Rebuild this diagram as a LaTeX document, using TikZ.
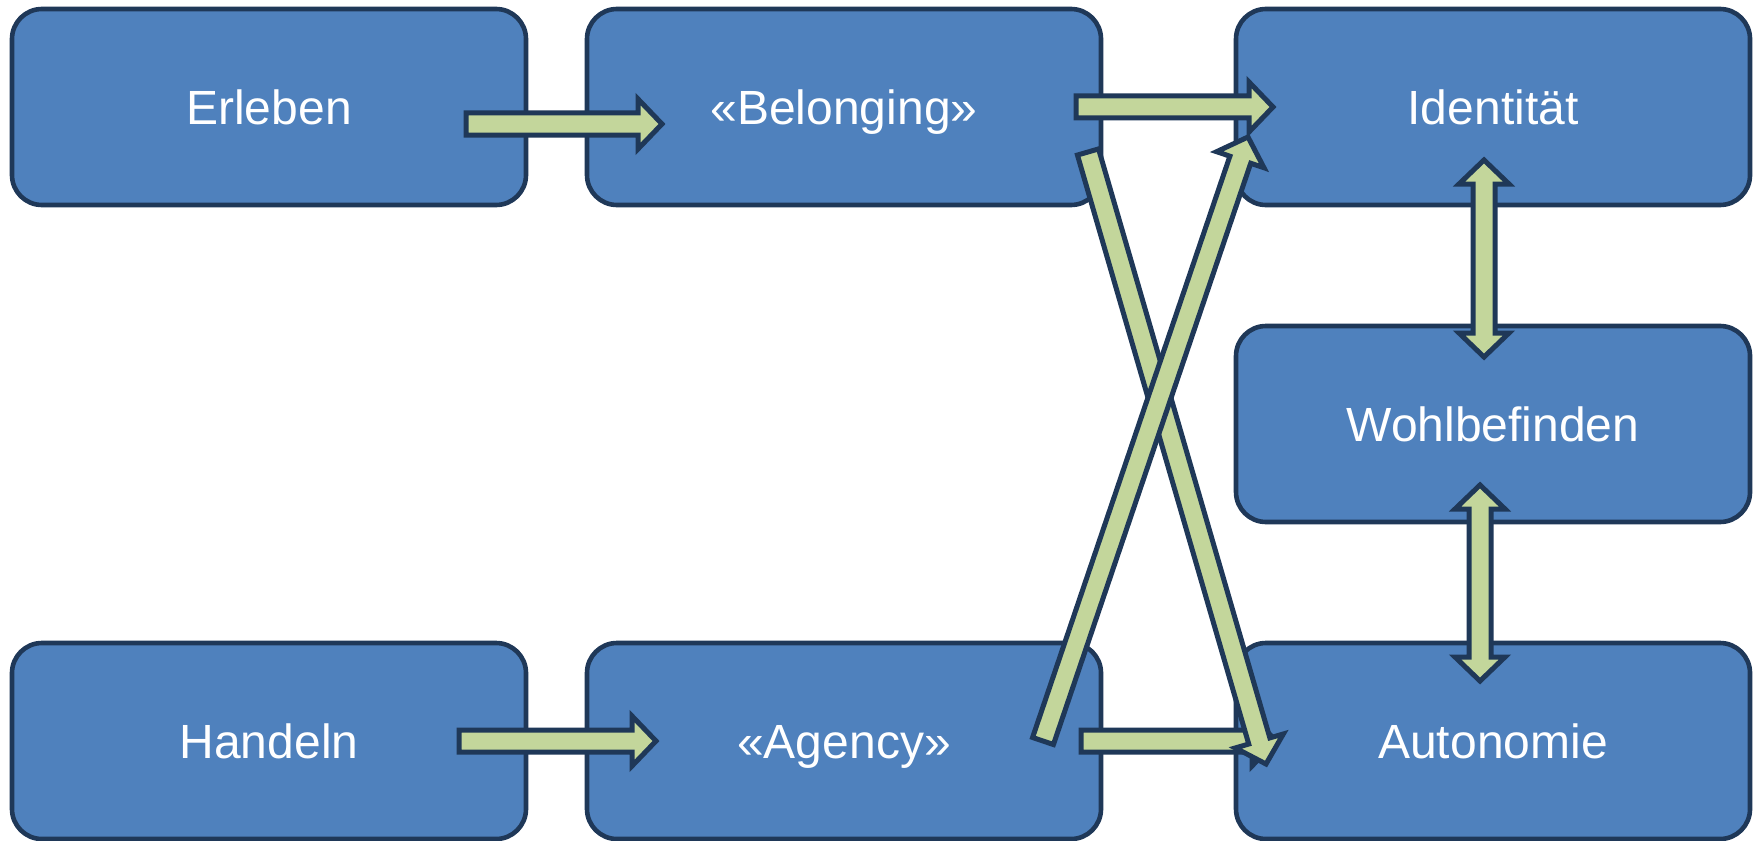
\documentclass[tikz,border=0pt]{standalone}
\usepackage{fontspec}
\setmainfont{Liberation Sans}
\usetikzlibrary{calc}
\definecolor{boxfill}{HTML}{4F81BD}
\definecolor{boxline}{HTML}{1F3858}
\definecolor{arrfill}{HTML}{C3D69B}
\tikzset{
  box/.style={draw=boxline, line width=2.3pt, fill=boxfill, rounded corners=15pt,
    minimum width=257pt, minimum height=98pt, text=white,
    font=\fontsize{24pt}{28pt}\selectfont, inner sep=0pt, text height=17.2pt, text depth=0pt},
  barrow/.style={draw=boxline, line width=2.5pt, fill=arrfill, line join=miter, miter limit=10}
}
\newcommand\blockarrow[2]{%
  \coordinate (hb) at ($(#2)!12pt!(#1)$);
  \draw[barrow] ($(#1)!5.5pt!90:(#2)$) -- ($(hb)!5.5pt!-90:(#1)$) -- ($(hb)!12.5pt!-90:(#1)$) -- (#2)
    -- ($(hb)!12.5pt!90:(#1)$) -- ($(hb)!5.5pt!90:(#1)$) -- ($(#1)!5.5pt!-90:(#2)$) -- cycle;}
\newcommand\dblarrow[2]{%
  \coordinate (hb) at ($(#2)!12pt!(#1)$);
  \coordinate (ha) at ($(#1)!12pt!(#2)$);
  \draw[barrow] (#1) -- ($(ha)!12.5pt!90:(#2)$) -- ($(ha)!5.5pt!90:(#2)$) -- ($(hb)!5.5pt!-90:(#1)$)
    -- ($(hb)!12.5pt!-90:(#1)$) -- (#2) -- ($(hb)!12.5pt!90:(#1)$) -- ($(hb)!5.5pt!90:(#1)$)
    -- ($(ha)!5.5pt!-90:(#2)$) -- ($(ha)!12.5pt!-90:(#2)$) -- cycle;}
\begin{document}
\begin{tikzpicture}[x=0.5pt, y=-0.5pt]
\useasboundingbox (0,0) rectangle (1760,840);
\fill[white] (0,0) rectangle (1760,840);
% boxes
\node[box] (erl) at (269,107) {Erleben};
\node[box] (bel) at (844,107) {«Belonging»};
\node[box] (ide) at (1493,107) {Identität};
\node[box] (wohl) at (1493,424) {Wohlbefinden};
\node[box] (han) at (269,741) {Handeln};
\node[box] (age) at (844,741) {«Agency»};
\node[box] (aut) at (1493,741) {Autonomie};
% arrow end points
\coordinate (a1s) at (466,124);  \coordinate (a1e) at (662,124);
\coordinate (a2s) at (1076,107); \coordinate (a2e) at (1273,107);
\coordinate (a3s) at (459,741);  \coordinate (a3e) at (656,741);
\coordinate (a4s) at (1081,741); \coordinate (a4e) at (1276,741);
\coordinate (a5s) at (1088,152); \coordinate (a5e) at (1266,764);
\coordinate (a6s) at (1043,741); \coordinate (a6e) at (1248,137);
\coordinate (a7s) at (1484,160); \coordinate (a7e) at (1484,357);
\coordinate (a8s) at (1480,485); \coordinate (a8e) at (1480,681);
% arrows
\blockarrow{a1s}{a1e}
\blockarrow{a2s}{a2e}
\blockarrow{a3s}{a3e}
\blockarrow{a4s}{a4e}
\dblarrow{a7s}{a7e}
\dblarrow{a8s}{a8e}
\blockarrow{a5s}{a5e}
\blockarrow{a6s}{a6e}
\end{tikzpicture}
\end{document}
